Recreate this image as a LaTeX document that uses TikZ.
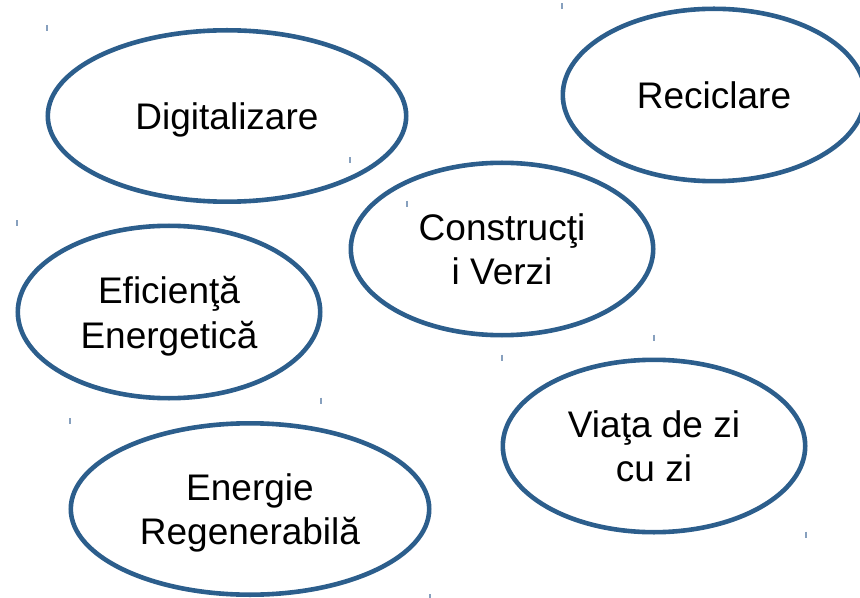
\documentclass[tikz,border=0pt]{standalone}
\usepackage{fontspec}
\setmainfont{Liberation Sans}
\usetikzlibrary{shapes.geometric}
\definecolor{ringblue}{RGB}{44,94,140}
\definecolor{tickgrey}{RGB}{135,160,190}

\begin{document}
\begin{tikzpicture}[x=0.5pt,y=-0.5pt]
          \tikzstyle{ring} = [draw=ringblue, line width=2.3pt, ellipse, inner sep=0pt,
            align=center, text depth=0pt, font=\fontsize{18.5}{22.4}\selectfont]
          \tikzstyle{ringL} = [ring, minimum width=179.2pt, minimum height=85.7pt]
          \tikzstyle{ringS} = [ring, minimum width=151.2pt, minimum height=86.2pt]
          \tikzstyle{tick} = [draw=tickgrey, line width=0.6pt]

          \useasboundingbox (0,0) rectangle (860,598);

          \node(Digitalizare)[ringL] at (227,116) {Digitalizare};
          \node(Reciclare)[ringS] at (714,95) {Reciclare};
          \node(Constructii)[ringS] at (502,249) {Construcţi\\i Verzi};
          \node(Eficienta)[ringS] at (169,312) {Eficienţă\\Energetică};
          \node(Viata)[ringS] at (654,446) {Viaţa de zi\\cu zi};
          \node(EnergieRegenerabila)[ringL] at (250,509) {Energie\\Regenerabilă};

          % corner marks
          \foreach \n in {Digitalizare,Reciclare,Constructii,Eficienta,Viata,EnergieRegenerabila}{
            \draw[tick] (\n.north -| \n.west) ++(1.5,-3) -- ++(0,6);
            \draw[tick] (\n.south -| \n.east) ++(-1.5,-3) -- ++(0,6);
          }
        \end{tikzpicture}
\end{document}
